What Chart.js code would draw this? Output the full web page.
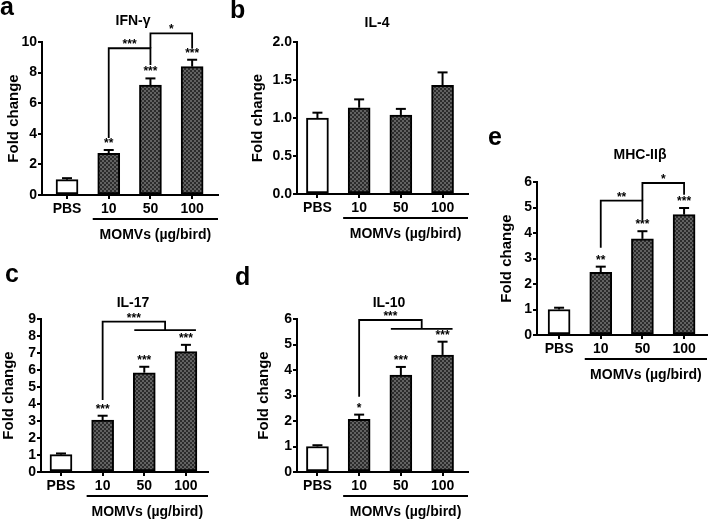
<!DOCTYPE html>
<html>
<head>
<meta charset="utf-8">
<script src="https://cdn.jsdelivr.net/npm/chart.js@4.4.0/dist/chart.umd.min.js"></script>
<style>
  html, body { margin: 0; padding: 0; background: #fff; }
  #wrap { position: relative; width: 708px; height: 523px; overflow: hidden; background: #fff; }
  #wrap canvas { position: absolute; left: 0; top: 0; }
</style>
</head>
<body>
<div id="wrap"></div>
<script>
// ---------------- DATA ----------------
const categories = ['PBS', '10', '50', '100'];
const groupLabel = 'MOMVs (µg/bird)';
const yAxisTitle = 'Fold change';

// a: IFN-γ
const ifnValues = [1.0, 2.72, 7.19, 8.39];
const ifnErrors = [0.10, 0.22, 0.43, 0.45];
const ifnStars = ['', '**', '***', '***'];
const ifnTicks = [0, 2, 4, 6, 8, 10];
const ifnTickLabels = ['0', '2', '4', '6', '8', '10'];
const ifnBrackets = [
  { from: 1, to: 2, top: 9.59, fromBottom: 3.73, toBottom: 8.5, label: '***' },
  { from: 2, to: 3, top: 10.57, fromBottom: 9.59, toBottom: 9.6, label: '*' }
];

// b: IL-4
const il4Values = [1.0, 1.135, 1.04, 1.43];
const il4Errors = [0.07, 0.11, 0.08, 0.17];
const il4Stars = ['', '', '', ''];
const il4Ticks = [0, 0.5, 1.0, 1.5, 2.0];
const il4TickLabels = ['0.0', '0.5', '1.0', '1.5', '2.0'];
const il4Brackets = [];

// c: IL-17
const il17Values = [1.02, 3.06, 5.84, 7.08];
const il17Errors = [0.07, 0.25, 0.35, 0.40];
const il17Stars = ['', '***', '***', '***'];
const il17Ticks = [0, 1, 2, 3, 4, 5, 6, 7, 8, 9];
const il17TickLabels = ['0', '1', '2', '3', '4', '5', '6', '7', '8', '9'];
const il17Brackets = [
  { from: 1, groupFrom: 2, groupTo: 3, top: 8.84, fromBottom: 4.24, groupLine: 8.35, label: '***' }
];

// d: IL-10
const il10Values = [1.0, 2.07, 3.80, 4.59];
const il10Errors = [0.05, 0.18, 0.32, 0.52];
const il10Stars = ['', '*', '***', '***'];
const il10Ticks = [0, 1, 2, 3, 4, 5, 6];
const il10TickLabels = ['0', '1', '2', '3', '4', '5', '6'];
const il10Brackets = [
  { from: 1, groupFrom: 2, groupTo: 3, top: 5.96, fromBottom: 2.95, groupLine: 5.61, label: '***' }
];

// e: MHC-IIβ
const mhcValues = [1.0, 2.46, 3.77, 4.72];
const mhcErrors = [0.07, 0.22, 0.30, 0.26];
const mhcStars = ['', '**', '***', '***'];
const mhcTicks = [0, 1, 2, 3, 4, 5, 6];
const mhcTickLabels = ['0', '1', '2', '3', '4', '5', '6'];
const mhcBrackets = [
  { from: 1, to: 2, top: 5.27, fromBottom: 3.42, toBottom: 4.52, label: '**' },
  { from: 2, to: 3, top: 5.96, fromBottom: 5.27, toBottom: 5.5, label: '*' }
];

// ---------------- LAYOUT / STYLE ----------------
const W = 708, H = 523;
const FONT = '"Liberation Sans", Arial, Helvetica, sans-serif';

const panels = [
  { letter: 'a', letterX: 0, letterY: 15, title: 'IFN-γ', titleX: 133, titleY: 21,
    area: { l: 42, r: 218, t: 42, b: 195 }, xMin: -0.6, xMax: 3.62, yTitleX: 14,
    values: ifnValues, errors: ifnErrors, stars: ifnStars, ticks: ifnTicks, tickLabels: ifnTickLabels, brackets: ifnBrackets },
  { letter: 'b', letterX: 230, letterY: 18, title: 'IL-4', titleX: 377, titleY: 23,
    area: { l: 297, r: 468, t: 42, b: 194 }, xMin: -0.49, xMax: 3.61, yTitleX: 257.5,
    values: il4Values, errors: il4Errors, stars: il4Stars, ticks: il4Ticks, tickLabels: il4TickLabels, brackets: il4Brackets },
  { letter: 'c', letterX: 5, letterY: 282, title: 'IL-17', titleX: 133, titleY: 303,
    area: { l: 41, r: 208, t: 319, b: 472 }, xMin: -0.48, xMax: 3.53, yTitleX: 9,
    values: il17Values, errors: il17Errors, stars: il17Stars, ticks: il17Ticks, tickLabels: il17TickLabels, brackets: il17Brackets },
  { letter: 'd', letterX: 235, letterY: 285, title: 'IL-10', titleX: 389, titleY: 303,
    area: { l: 297, r: 468, t: 319, b: 472 }, xMin: -0.49, xMax: 3.61, yTitleX: 264,
    values: il10Values, errors: il10Errors, stars: il10Stars, ticks: il10Ticks, tickLabels: il10TickLabels, brackets: il10Brackets },
  { letter: 'e', letterX: 488, letterY: 145, title: 'MHC-IIβ', titleX: 640, titleY: 155,
    area: { l: 537, r: 707, t: 182, b: 335 }, xMin: -0.53, xMax: 3.55, yTitleX: 506.5,
    values: mhcValues, errors: mhcErrors, stars: mhcStars, ticks: mhcTicks, tickLabels: mhcTickLabels, brackets: mhcBrackets }
];

// checker pattern for treated bars
function makePattern() {
  const pc = document.createElement('canvas');
  pc.width = 4; pc.height = 4;
  const c = pc.getContext('2d');
  c.fillStyle = '#626262'; c.fillRect(0, 0, 4, 4);
  c.fillStyle = '#2c2c2c'; c.fillRect(0, 0, 2, 2); c.fillRect(2, 2, 2, 2);
  return c.createPattern(pc, 'repeat');
}
const pattern = makePattern();

function line(ctx, x1, y1, x2, y2) {
  ctx.beginPath(); ctx.moveTo(x1, y1); ctx.lineTo(x2, y2); ctx.stroke();
}

function makePanel(cfg) {
  const A = cfg.area;
  const canvas = document.createElement('canvas');
  canvas.width = W; canvas.height = H;
  canvas.style.width = W + 'px'; canvas.style.height = H + 'px';
  document.getElementById('wrap').appendChild(canvas);

  const annot = {
    id: 'annot' + cfg.letter,
    afterDraw(chart) {
      const ctx = chart.ctx, xs = chart.scales.x, ys = chart.scales.y;
      ctx.save();
      ctx.strokeStyle = '#000'; ctx.fillStyle = '#000';
      ctx.lineWidth = 2; ctx.lineCap = 'butt';

      // error bars (upper) and significance stars
      cfg.values.forEach((v, i) => {
        const cx = xs.getPixelForValue(i);
        const y0 = ys.getPixelForValue(v);
        const y1 = ys.getPixelForValue(v + cfg.errors[i]);
        line(ctx, cx, y0, cx, y1);
        line(ctx, cx - 5, y1, cx + 5, y1);
        if (cfg.stars[i]) {
          ctx.font = 'bold 12px ' + FONT;
          ctx.textAlign = 'center'; ctx.textBaseline = 'alphabetic';
          ctx.fillText(cfg.stars[i], cx, y1 - 3);
        }
      });

      // comparison brackets
      ctx.lineWidth = 1.8;
      cfg.brackets.forEach(b => {
        const xa = xs.getPixelForValue(b.from);
        const yt = ys.getPixelForValue(b.top);
        let xm;
        ctx.beginPath();
        if (b.to !== undefined) {
          const xb = xs.getPixelForValue(b.to);
          ctx.moveTo(xa, ys.getPixelForValue(b.fromBottom));
          ctx.lineTo(xa, yt); ctx.lineTo(xb, yt);
          ctx.lineTo(xb, ys.getPixelForValue(b.toBottom));
          ctx.stroke();
          xm = (xa + xb) / 2;
        } else {
          const g1 = xs.getPixelForValue(b.groupFrom), g2 = xs.getPixelForValue(b.groupTo);
          const gm = (g1 + g2) / 2, gy = ys.getPixelForValue(b.groupLine);
          ctx.moveTo(xa, ys.getPixelForValue(b.fromBottom));
          ctx.lineTo(xa, yt); ctx.lineTo(gm, yt); ctx.lineTo(gm, gy);
          ctx.stroke();
          line(ctx, g1 - 10, gy, g2 + 10, gy);
          xm = (xa + gm) / 2;
        }
        ctx.font = 'bold 12px ' + FONT;
        ctx.textAlign = 'center'; ctx.textBaseline = 'alphabetic';
        ctx.fillText(b.label, xm, yt);
      });

      // group underline + label
      ctx.lineWidth = 2;
      const ux = xs.getPixelForValue(1) - 16;
      const uy = A.b + 24;
      line(ctx, ux, uy, A.r, uy);
      ctx.font = 'bold 14px ' + FONT;
      ctx.textAlign = 'center'; ctx.textBaseline = 'middle';
      ctx.fillText(groupLabel, (ux + A.r) / 2, A.b + 40);

      // panel title
      ctx.fillText(cfg.title, cfg.titleX, cfg.titleY);

      // y axis title
      ctx.save();
      ctx.translate(cfg.yTitleX, (A.t + A.b) / 2);
      ctx.rotate(-Math.PI / 2);
      ctx.font = 'bold 15px ' + FONT;
      ctx.fillText(yAxisTitle, 0, 0);
      ctx.restore();

      // panel letter
      ctx.font = 'bold 25px ' + FONT;
      ctx.textAlign = 'left'; ctx.textBaseline = 'alphabetic';
      ctx.fillText(cfg.letter, cfg.letterX, cfg.letterY);
      ctx.restore();
    }
  };

  new Chart(canvas, {
    type: 'bar',
    data: {
      datasets: [{
        data: cfg.values.map((v, i) => ({ x: i, y: v })),
        backgroundColor: cfg.values.map((v, i) => i === 0 ? '#ffffff' : pattern),
        borderColor: '#000',
        borderWidth: 2,
        borderSkipped: false,
        barThickness: 22
      }]
    },
    options: {
      responsive: false,
      animation: false,
      devicePixelRatio: 1,
      events: [],
      layout: { padding: { left: 0, top: A.t, right: W - A.r, bottom: 0 } },
      plugins: { legend: { display: false }, tooltip: { enabled: false }, title: { display: false } },
      scales: {
        x: {
          type: 'linear',
          min: cfg.xMin, max: cfg.xMax,
          bounds: 'data',
          offset: false,
          afterBuildTicks: s => { s.ticks = categories.map((c, i) => ({ value: i })); },
          afterFit: s => { s.height = H - A.b; },
          ticks: {
            callback: v => categories[v],
            color: '#000', font: { family: FONT, size: 14, weight: 'bold' },
            padding: 2, maxRotation: 0, autoSkip: false
          },
          grid: { display: true, offset: false, drawOnChartArea: false, drawTicks: true, tickLength: 4, color: '#000', lineWidth: 2 },
          border: { display: true, color: '#000', width: 2 }
        },
        y: {
          min: 0, max: cfg.ticks[cfg.ticks.length - 1],
          afterBuildTicks: s => { s.ticks = cfg.ticks.map(v => ({ value: v })); },
          afterFit: s => { s.width = A.l; },
          ticks: {
            callback: (v, i) => cfg.tickLabels[i],
            color: '#000', font: { family: FONT, size: 14, weight: 'bold' },
            padding: 1, autoSkip: false
          },
          grid: { display: true, drawOnChartArea: false, drawTicks: true, tickLength: 4, color: '#000', lineWidth: 2 },
          border: { display: true, color: '#000', width: 2 }
        }
      }
    },
    plugins: [annot]
  });
}

panels.forEach(makePanel);
</script>
</body>
</html>
